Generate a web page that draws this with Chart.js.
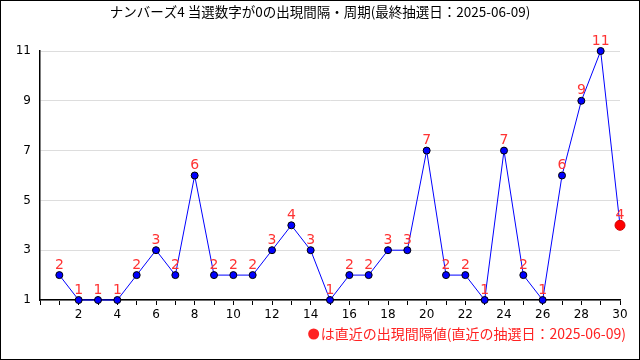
<!DOCTYPE html>
<html>
<head>
<meta charset="utf-8">
<script src="https://cdn.jsdelivr.net/npm/chart.js@4"></script>
<style>
html, body { margin: 0; padding: 0; background: #fff; }
#wrap { width: 640px; height: 360px; }
</style>
</head>
<body>
<div id="wrap"><canvas id="grafico" width="640" height="360"></canvas></div>
<script>
var titulo = 'ナンバーズ4 当選数字が0の出現間隔・周期(最終抽選日：2025-06-09)';
var legenda = 'は直近の出現間隔値(直近の抽選日：2025-06-09)';
var kaisu = [1, 2, 3, 4, 5, 6, 7, 8, 9, 10, 11, 12, 13, 14, 15, 16, 17, 18, 19, 20, 21, 22, 23, 24, 25, 26, 27, 28, 29, 30];
var kankaku = [2, 1, 1, 1, 2, 3, 2, 6, 2, 2, 2, 3, 4, 3, 1, 2, 2, 3, 3, 7, 2, 2, 1, 7, 2, 1, 6, 9, 11, 4];
var yTicks = [1, 3, 5, 7, 9, 11];

var fonte = '"DejaVu Sans", "Noto Sans CJK JP", sans-serif';
var fonteJP = '"Noto Sans CJK JP", "DejaVu Sans", sans-serif';

var pontos = kaisu.map(function(x, i) { return { x: x, y: kankaku[i] }; });
var ultimo = pontos.length - 1;

var extras = {
    id: 'extras',
    afterDatasetsDraw: function(chart) {
        var ctx = chart.ctx;
        var meta = chart.getDatasetMeta(0);
        ctx.save();
        ctx.fillStyle = '#ff3333';
        ctx.font = '14px ' + fonte;
        ctx.textAlign = 'center';
        ctx.textBaseline = 'bottom';
        meta.data.forEach(function(p, i) {
            ctx.fillText(String(kankaku[i]), p.x, p.y - 3);
        });
        ctx.restore();
    },
    afterDraw: function(chart) {
        var ctx = chart.ctx;
        ctx.save();
        ctx.fillStyle = '#000';
        ctx.font = '13.5px ' + fonteJP;
        ctx.textAlign = 'center';
        ctx.textBaseline = 'middle';
        ctx.fillText(titulo, 320, 12);

        ctx.fillStyle = '#ff2222';
        ctx.font = '14px ' + fonteJP;
        ctx.textAlign = 'right';
        ctx.fillText(legenda, 626, 334);
        var w = ctx.measureText(legenda).width;
        ctx.beginPath();
        ctx.arc(626 - w - 7, 334, 5.5, 0, Math.PI * 2);
        ctx.fill();

        ctx.strokeStyle = '#000';
        ctx.lineWidth = 1;
        ctx.strokeRect(0.5, 0.5, 639, 359);
        ctx.restore();
    }
};

var config = {
    type: 'line',
    data: {
        datasets: [{
            data: pontos,
            clip: false,
            borderColor: '#0000ff',
            borderWidth: 1,
            tension: 0,
            pointBackgroundColor: pontos.map(function(p, i) { return i === ultimo ? '#ff0000' : '#0000ff'; }),
            pointBorderColor: pontos.map(function(p, i) { return i === ultimo ? '#cc0000' : '#000000'; }),
            pointBorderWidth: 1,
            pointRadius: pontos.map(function(p, i) { return i === ultimo ? 5 : 3.5; })
        }]
    },
    options: {
        responsive: false,
        animation: false,
        layout: { padding: { top: 51, right: 20, left: 0, bottom: 0 } },
        plugins: {
            legend: { display: false },
            title: { display: false },
            tooltip: { enabled: false }
        },
        scales: {
            x: {
                type: 'linear',
                min: 0,
                max: 30,
                afterFit: function(s) { s.height = 60; },
                afterBuildTicks: function(s) {
                    var t = [];
                    for (var i = 0; i <= 30; i++) t.push({ value: i });
                    s.ticks = t;
                },
                ticks: {
                    autoSkip: false,
                    maxRotation: 0,
                    color: '#000',
                    font: { family: fonte, size: 12 },
                    padding: 3,
                    callback: function(v) { return (v > 0 && v % 2 === 0) ? String(v) : ''; }
                },
                grid: { drawOnChartArea: false, color: '#000', tickLength: 5 },
                border: { color: '#000', width: 1.5 }
            },
            y: {
                min: 1,
                max: 11,
                afterFit: function(s) { s.width = 40; },
                afterBuildTicks: function(s) {
                    s.ticks = yTicks.map(function(v) { return { value: v }; });
                },
                ticks: {
                    color: '#000',
                    font: { family: fonte, size: 12 },
                    padding: 9
                },
                grid: { color: '#dddddd', drawTicks: false, tickLength: 0 },
                border: { color: '#000', width: 1.5 }
            }
        }
    },
    plugins: [extras]
};

window.onload = function() {
    var ctx = document.getElementById('grafico').getContext('2d');
    window.meuGrafico = new Chart(ctx, config);
};
</script>
</body>
</html>
